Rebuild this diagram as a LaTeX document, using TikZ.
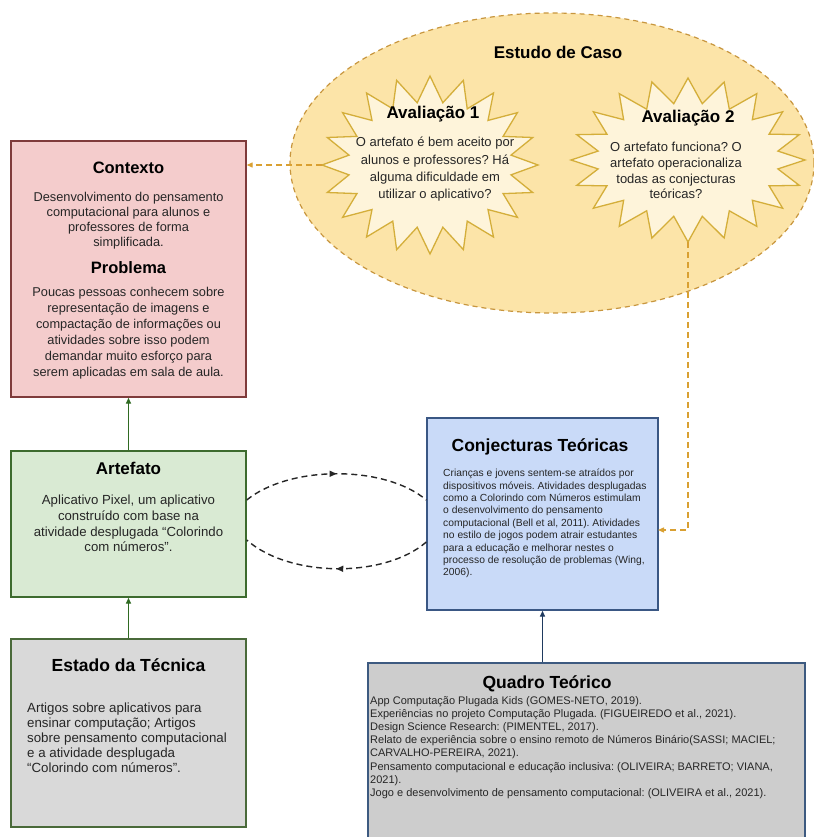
\documentclass[tikz,border=0pt]{standalone}
\usepackage{fontspec}
\setmainfont{Liberation Sans}
\usetikzlibrary{arrows.meta,calc,decorations.markings,shapes.geometric}
\frenchspacing

\definecolor{casefill}{HTML}{FCE4A8}
\definecolor{casebd}{HTML}{C8963E}
\definecolor{starfill}{HTML}{FEF4DA}
\definecolor{starbd}{HTML}{D4AE3A}
\definecolor{linkorange}{HTML}{D9A032}
\definecolor{ctxfill}{HTML}{F4CCCC}
\definecolor{ctxbd}{HTML}{7F3B3B}
\definecolor{artfill}{HTML}{D9EAD3}
\definecolor{artbd}{HTML}{3D6B2E}
\definecolor{estfill}{HTML}{D9D9D9}
\definecolor{estbd}{HTML}{4A6A3A}
\definecolor{conjfill}{HTML}{C9DAF8}
\definecolor{conjbd}{HTML}{3A5784}
\definecolor{quadfill}{HTML}{CDCDCD}
\definecolor{quadbd}{HTML}{3D5A80}
\definecolor{greenlink}{HTML}{2F6A22}
\definecolor{bluelink}{HTML}{1F3A5F}

\begin{document}
\begin{tikzpicture}[x=1pt,y=-1pt,
  box/.style={rectangle, line width=1.4pt, inner sep=0pt},
  title/.style={anchor=base, inner sep=0pt, font=\fontsize{17}{20}\selectfont\bfseries},
  bodytext/.style={anchor=north, inner sep=0pt, align=center, text=black!85},
  tip/.style={-{Triangle[length=6pt,width=5pt]}},
  solidlink/.style={tip, line width=1.4pt},
  orangelink/.style={tip, draw=linkorange, line width=1.3pt, dash pattern=on 6pt off 4pt},
  looplink/.style={line width=1.4pt, dash pattern=on 6pt off 4pt, draw=black!85,
    postaction={decorate},
    decoration={markings, mark=at position 0.5 with {\arrow{Triangle[length=7pt,width=6pt]}}}},
  starstyle/.style={draw=starbd, fill=starfill, line width=1.3pt, line join=miter}
]
\useasboundingbox (0,0) rectangle (813,837);
\fill[white] (0,0) rectangle (813,837);

% ---- Case study ellipse with the two evaluations ----
\node[ellipse, draw=casebd, fill=casefill, line width=1.2pt, dash pattern=on 5pt off 4pt,
      minimum width=524pt, minimum height=300pt, inner sep=0pt] (case) at (552,163) {};
\node[title] (casetitle) at (558,59) {Estudo de Caso};

% starburst outlines (20 points, alternating outer/inner radius)
\draw[starstyle] plot[samples=41, domain=0:40, variable=\k]
  ({430 + (mod(\k,2)==0 ? 108 : 82)*cos(\k*9)}, {165 + (mod(\k,2)==0 ? 89 : 63)*sin(\k*9)}) -- cycle;
\draw[starstyle] plot[samples=41, domain=0:40, variable=\k]
  ({688 + (mod(\k,2)==0 ? 117 : 91)*cos(\k*9)}, {160 + (mod(\k,2)==0 ? 82 : 57)*sin(\k*9)}) -- cycle;
\coordinate (av1w) at (322,165);
\coordinate (av2s) at (688,242);

\node[title] (av1title) at (433,119) {Avaliação 1};
\node[bodytext, font=\fontsize{13}{17.3}\selectfont] (av1text) at (435,137)
  {O artefato é bem aceito por\\alunos e professores? Há\\alguma dificuldade em\\utilizar o aplicativo?};
\node[title] (av2title) at (688,123) {Avaliação 2};
\node[bodytext, font=\fontsize{13}{15.7}\selectfont] (av2text) at (676,142)
  {O artefato funciona? O\\artefato operacionaliza\\todas as conjecturas\\teóricas?};

% ---- Left column ----
\node[box, fill=ctxfill, draw=ctxbd, minimum width=235pt, minimum height=256pt] (ctx) at (128.5,269) {};
\node[title, font=\fontsize{16.5}{20}\selectfont\bfseries] (ctxtitle) at (128.5,174) {Contexto};
\node[bodytext, font=\fontsize{12.8}{15}\selectfont] (ctxtext) at (128.5,192)
  {Desenvolvimento do pensamento\\computacional para alunos e\\professores de forma\\simplificada.};
\node[title, font=\fontsize{16.5}{20}\selectfont\bfseries] (probtitle) at (128.5,273) {Problema};
\node[bodytext, font=\fontsize{12.8}{16}\selectfont] (probtext) at (128.5,287)
  {Poucas pessoas conhecem sobre\\representação de imagens e\\compactação de informações ou\\atividades sobre isso podem\\demandar muito esforço para\\serem aplicadas em sala de aula.};

\node[box, fill=artfill, draw=artbd, minimum width=235pt, minimum height=146pt] (art) at (128.5,524) {};
\node[title] (arttitle) at (128.5,474) {Artefato};
\node[bodytext, font=\fontsize{13.2}{15.7}\selectfont] (arttext) at (128.5,495)
  {Aplicativo Pixel, um aplicativo\\construído com base na\\atividade desplugada “Colorindo\\com números”.};

\node[box, fill=estfill, draw=estbd, minimum width=235pt, minimum height=188pt] (est) at (128.5,733) {};
\node[title, font=\fontsize{17.5}{20}\selectfont\bfseries] (esttitle) at (128.5,671) {Estado da Técnica};
\node[bodytext, anchor=north west, align=left, font=\fontsize{13.3}{14.8}\selectfont] (esttext) at (27,703)
  {Artigos sobre aplicativos para\\ensinar computação; Artigos\\sobre pensamento computacional\\e a atividade desplugada\\“Colorindo com números”.};

% ---- Right column ----
\node[box, fill=conjfill, draw=conjbd, minimum width=231pt, minimum height=192pt] (conj) at (542.5,514) {};
\node[title, font=\fontsize{17.5}{20}\selectfont\bfseries] (conjtitle) at (540,451) {Conjecturas Teóricas};
\node[bodytext, anchor=north west, align=left, font=\fontsize{10.3}{12.4}\selectfont] (conjtext) at (443,469)
  {Crianças e jovens sentem-se atraídos por\\dispositivos móveis. Atividades desplugadas\\como a Colorindo com Números estimulam\\o desenvolvimento do pensamento\\computacional (Bell et al, 2011). Atividades\\no estilo de jogos podem atrair estudantes\\para a educação e melhorar nestes o\\processo de resolução de problemas (Wing,\\2006).};

\node[box, fill=quadfill, draw=quadbd, minimum width=437pt, minimum height=190pt] (quad) at (586.5,758) {};
\node[title, font=\fontsize{17.5}{20}\selectfont\bfseries] (quadtitle) at (547,688) {Quadro Teórico};
\node[bodytext, anchor=north west, align=left, font=\fontsize{11}{13.2}\selectfont] (quadtext) at (370,696)
  {App Computação Plugada Kids (GOMES-NETO, 2019).\\Experiências no projeto Computação Plugada. (FIGUEIREDO et al., 2021).\\Design Science Research: (PIMENTEL, 2017).\\Relato de experiência sobre o ensino remoto de Números Binário(SASSI; MACIEL;\\CARVALHO-PEREIRA, 2021).\\Pensamento computacional e educação inclusiva: (OLIVEIRA; BARRETO; VIANA,\\2021).\\Jogo e desenvolvimento de pensamento computacional: (OLIVEIRA et al., 2021).};

% ---- Connectors ----
\draw[solidlink, draw=greenlink] (art.north) -- (ctx.south);
\draw[solidlink, draw=greenlink] (est.north) -- (art.north |- art.south);
\draw[solidlink, draw=bluelink] (quad.north -| conj.south) -- (conj.south);

\draw[orangelink] (av1w) -- (av1w -| ctx.east);
\coordinate (conjin) at (658,530);
\draw[orangelink] (av2s) |- (conjin);

\draw[looplink] ($(art.east)+(0,-24)$) .. controls (290,465) and (385,465) .. ($(conj.west)+(0,-14)$);
\draw[looplink] ($(conj.west)+(0,28)$) .. controls (385,578) and (290,578) .. ($(art.east)+(0,16)$);
\end{tikzpicture}
\end{document}
